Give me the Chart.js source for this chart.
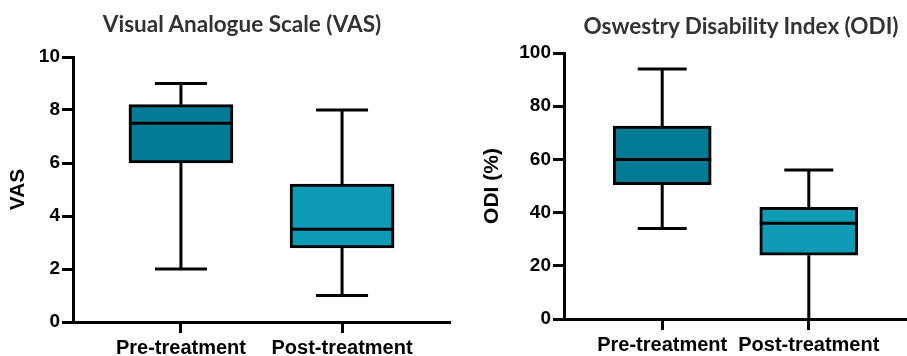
<!DOCTYPE html>
<html>
<head>
<meta charset="utf-8">
<script src="https://cdn.jsdelivr.net/npm/chart.js@4"></script>
<style>
  body { margin: 0; background: #fff; width: 907px; height: 356px; position: relative; overflow: hidden; }
  .panel { position: absolute; top: 0; height: 356px; }
  .title { position: absolute; font-family: Lato, 'Open Sans', sans-serif; font-weight: 700; font-size: 22.5px; color: #333; white-space: nowrap; transform: translate(-50%, -50%); }
</style>
</head>
<body>
<div class="panel" style="left:0;width:453px"><canvas id="vasChart"></canvas></div>
<div class="panel" style="left:453px;width:454px"><canvas id="odiChart"></canvas></div>
<div class="title" style="left:242px;top:23px">Visual Analogue Scale (VAS)</div>
<div class="title" style="left:741px;top:25px">Oswestry Disability Index (ODI)</div>
<script>
// Box plot: Pre vs Post tratamiento

const groups = ['Pre-treatment', 'Post-treatment'];
const boxColors = ['#047B94', '#0E9BB5'];

// VAS  (min, q1, mediana, q3, max)
const vasMin = [2, 1];
const vasQ1 = [6.0, 2.8];
const vasMedian = [7.5, 3.5];
const vasQ3 = [8.2, 5.2];
const vasMax = [9, 8];
const vasTicks = [0, 2, 4, 6, 8, 10];

// ODI (%)
const odiMin = [34, 0];
const odiQ1 = [50.5, 24];
const odiMedian = [60, 36];
const odiQ3 = [72.5, 42];
const odiMax = [94, 56];
const odiTicks = [0, 20, 40, 60, 80, 100];

// bigotes y mediana dibujados con las escalas del gráfico
const whiskerPlugin = {
    id: 'whiskers',
    beforeDatasetsDraw(chart, args, opts) {
        const {ctx, scales: {x, y}} = chart;
        ctx.save();
        ctx.strokeStyle = '#000';
        ctx.lineWidth = 3;
        ctx.lineCap = 'butt';
        opts.min.forEach((lo, i) => {
            const px = x.getPixelForValue(i);
            const half = opts.capWidth / 2;
            ctx.beginPath();
            ctx.moveTo(px, y.getPixelForValue(lo));
            ctx.lineTo(px, y.getPixelForValue(opts.q1[i]));
            ctx.moveTo(px, y.getPixelForValue(opts.q3[i]));
            ctx.lineTo(px, y.getPixelForValue(opts.max[i]));
            ctx.moveTo(px - half, y.getPixelForValue(opts.max[i]));
            ctx.lineTo(px + half, y.getPixelForValue(opts.max[i]));
            if (lo > y.min) {
                ctx.moveTo(px - half, y.getPixelForValue(lo));
                ctx.lineTo(px + half, y.getPixelForValue(lo));
            }
            ctx.stroke();
        });
        ctx.restore();
    },
    afterDatasetsDraw(chart, args, opts) {
        const {ctx, scales: {x, y}} = chart;
        ctx.save();
        ctx.strokeStyle = '#000';
        ctx.lineWidth = 3;
        opts.median.forEach((m, i) => {
            const px = x.getPixelForValue(i);
            const half = opts.boxWidth / 2;
            const py = y.getPixelForValue(m);
            ctx.beginPath();
            ctx.moveTo(px - half, py);
            ctx.lineTo(px + half, py);
            ctx.stroke();
        });
        ctx.restore();
    }
};

function makeBoxChart(id, s) {
    const tickFont = {family: "'Liberation Sans', Arial, sans-serif", size: 19, weight: 'bold'};
    new Chart(document.getElementById(id).getContext('2d'), {
        type: 'bar',
        data: {
            datasets: [{
                data: s.q1.map((v, i) => ({x: i, y: [v, s.q3[i]]})),
                backgroundColor: boxColors,
                borderColor: '#000',
                borderWidth: 3,
                borderSkipped: false,
                barThickness: s.boxWidth
            }]
        },
        options: {
            responsive: true,
            maintainAspectRatio: false,
            animation: false,
            layout: {padding: {top: s.top, right: s.right, left: 0, bottom: 0}},
            scales: {
                x: {
                    type: 'linear',
                    offset: false,
                    min: -0.67,
                    max: 1.67,
                    afterBuildTicks: (axis) => { axis.ticks = groups.map((g, i) => ({value: i})); },
                    afterFit: (axis) => { axis.height = s.xHeight; },
                    ticks: {
                        color: '#000',
                        font: {family: tickFont.family, size: 20, weight: 'bold'},
                        padding: 3,
                        maxRotation: 0,
                        autoSkip: false,
                        callback: (v) => groups[v]
                    },
                    grid: {offset: false, drawOnChartArea: false, drawTicks: true, tickLength: 11, tickWidth: 3, color: '#000'},
                    border: {display: true, width: 3, color: '#000'}
                },
                y: {
                    min: s.ticks[0],
                    max: s.ticks[s.ticks.length - 1],
                    afterBuildTicks: (axis) => { axis.ticks = s.ticks.map(v => ({value: v})); },
                    afterFit: (axis) => { axis.width = s.yWidth; },
                    ticks: {color: '#000', font: tickFont, padding: 2},
                    grid: {drawOnChartArea: false, drawTicks: true, tickLength: 11, tickWidth: 3, color: '#000'},
                    border: {display: true, width: 3, color: '#000'},
                    title: {
                        display: true,
                        text: s.label,
                        color: '#000',
                        font: {family: tickFont.family, size: 21, weight: 'bold'},
                        padding: {top: s.titlePad, bottom: 0}
                    }
                }
            },
            plugins: {
                legend: {display: false},
                tooltip: {enabled: false},
                whiskers: {min: s.min, q1: s.q1, median: s.median, q3: s.q3, max: s.max, capWidth: s.capWidth, boxWidth: s.boxWidth}
            }
        },
        plugins: [whiskerPlugin]
    });
}

makeBoxChart('vasChart', {
    label: 'VAS', min: vasMin, q1: vasQ1, median: vasMedian, q3: vasQ3, max: vasMax, ticks: vasTicks,
    boxWidth: 104, capWidth: 52, top: 57, right: 3, xHeight: 34, yWidth: 73, titlePad: 6
});
makeBoxChart('odiChart', {
    label: 'ODI (%)', min: odiMin, q1: odiQ1, median: odiMedian, q3: odiQ3, max: odiMax, ticks: odiTicks,
    boxWidth: 98, capWidth: 49, top: 53, right: 0, xHeight: 37, yWidth: 111, titlePad: 27
});
</script>
</body>
</html>
